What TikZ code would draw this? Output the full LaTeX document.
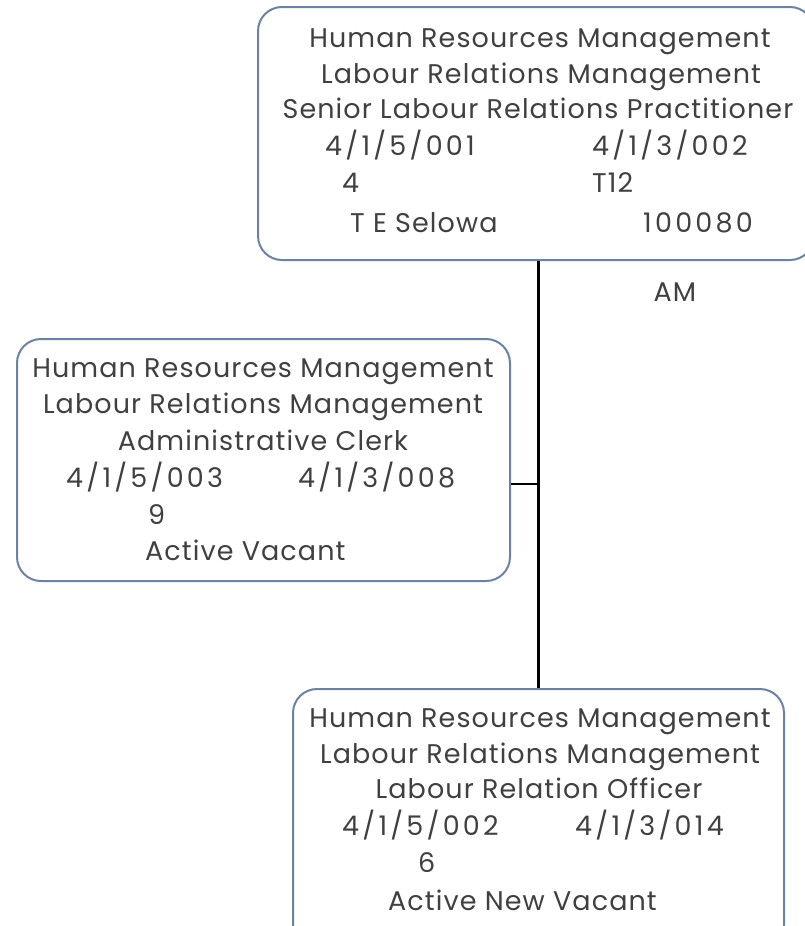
\documentclass[tikz,border=0pt]{standalone}
\usepackage{fontspec}
\setmainfont{Poppins}[LetterSpace=4]
\newfontfamily\numfont{Poppins}[LetterSpace=12]
\usepackage{tikz}

\definecolor{boxline}{HTML}{6C82A3}
\definecolor{txt}{HTML}{404040}

\tikzset{
	posbox/.style={draw=boxline, line width=2pt, rounded corners=24pt, anchor=north west, inner sep=0pt},
	lbl/.style={text=txt, font=\fontsize{27pt}{27pt}\selectfont, inner sep=0pt},
	numlbl/.style={lbl, font=\fontsize{27pt}{27pt}\numfont, anchor=base west},
}

\begin{document}
\begin{tikzpicture}[x=1pt, y=-1pt]
	\useasboundingbox (0,0) rectangle (804,926);

	% top post
	\node [posbox, minimum width=556pt, minimum height=253pt] (top) at (257,6) {};
	\node [lbl, anchor=base] (t1) at (540,47) {Human Resources Management};
	\node [lbl, anchor=base] (t2) at (541,83) {Labour Relations Management};
	\node [lbl, anchor=base] (t3) at (538,118) {Senior Labour Relations Practitioner};
	\node [numlbl] (t4a) at (325,155) {4/1/5/001};
	\node [numlbl] (t4b) at (592,155) {4/1/3/002};
	\node [numlbl] (t5a) at (342,192) {4};
	\node [lbl, anchor=base west] (t5b) at (592,192) {T12};
	\node [lbl, anchor=base west] (t6a) at (350,232) {T E Selowa};
	\node [numlbl] (t6b) at (643,232) {100080};
	\node [lbl, anchor=base] (am) at (675,301) {AM};

	% left post
	\node [posbox, minimum width=493pt, minimum height=242pt] (left) at (16,338) {};
	\node [lbl, anchor=base] (l1) at (263,377) {Human Resources Management};
	\node [lbl, anchor=base] (l2) at (263,413) {Labour Relations Management};
	\node [lbl, anchor=base] (l3) at (263,450) {Administrative Clerk};
	\node [numlbl] (l4a) at (66,487) {4/1/5/003};
	\node [numlbl] (l4b) at (298,487) {4/1/3/008};
	\node [numlbl] (l5a) at (148,524) {9};
	\node [lbl, anchor=base west] (l6) at (145,560) {Active Vacant};

	% bottom post
	\node [posbox, minimum width=491pt, minimum height=260pt] (bot) at (292,688) {};
	\node [lbl, anchor=base] (b1) at (540,727) {Human Resources Management};
	\node [lbl, anchor=base] (b2) at (540,763) {Labour Relations Management};
	\node [lbl, anchor=base] (b3) at (539,798) {Labour Relation Officer};
	\node [numlbl] (b4a) at (342,835) {4/1/5/002};
	\node [numlbl] (b4b) at (575,835) {4/1/3/014};
	\node [numlbl] (b5a) at (418,872) {6};
	\node [lbl, anchor=base west] (b6) at (388,910) {Active New Vacant};

	% lines
	\coordinate (jn) at (538,484);
	\draw [line width=2.5pt] (top.south -| bot.north) -- (bot.north);
	\draw [line width=2.5pt] (left.east |- jn) -- (jn);

\end{tikzpicture}
\end{document}
